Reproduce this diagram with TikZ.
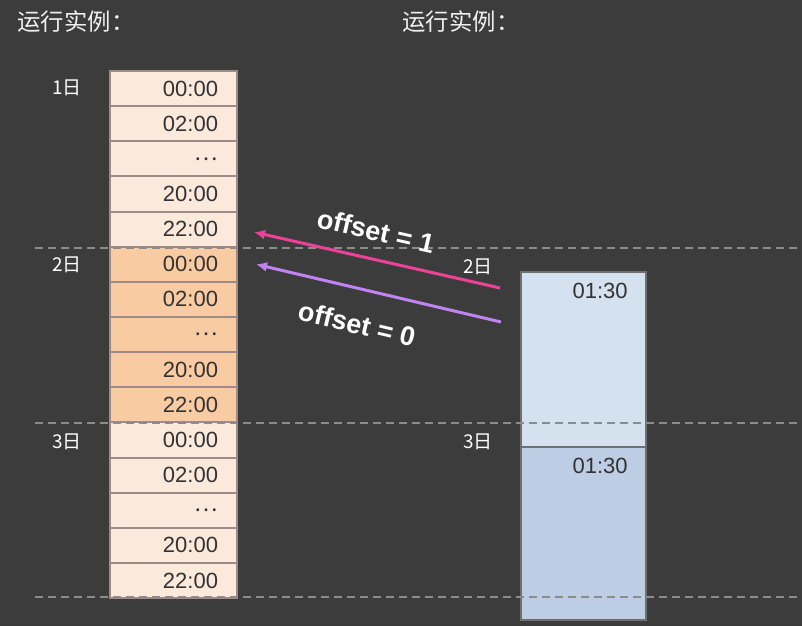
\documentclass[tikz,border=0pt]{standalone}
\usepackage{fontspec}
\setmainfont{Liberation Sans}
\newfontfamily\cjk{Noto Sans CJK SC}
\usetikzlibrary{positioning,arrows.meta}
\definecolor{bgdark}{HTML}{3C3C3C}
\definecolor{cellpale}{HTML}{FBE9DC}
\definecolor{cellhot}{HTML}{F8CBA2}
\definecolor{cellline}{HTML}{A08A88}
\definecolor{celltext}{HTML}{333333}
\definecolor{blocktop}{HTML}{D4E2EF}
\definecolor{blockbot}{HTML}{BDCDE3}
\definecolor{blockline}{HTML}{707070}
\definecolor{dayline}{HTML}{8C8C8C}
\definecolor{pinkline}{HTML}{EC4399}
\definecolor{violetline}{HTML}{C183F2}
\tikzset{
  cell/.style={draw=cellline, line width=1pt, fill=cellpale, minimum width=63.5pt,
               minimum height=17.57pt, text width=44.5pt, inner xsep=9.5pt, inner ysep=0pt,
               outer sep=0pt, align=right, text=celltext, font=\fontsize{11}{13}\selectfont},
  hot/.style={fill=cellhot},
  block/.style={draw=blockline, line width=1pt, minimum width=62.5pt, outer sep=0pt, inner sep=0pt},
  blocktext/.style={inner sep=0pt, text=celltext, font=\fontsize{11}{13}\selectfont},
  title/.style={text=white!94!black, inner sep=0pt, font=\cjk\fontsize{11.7}{13}\selectfont},
  daylabel/.style={text=white, inner sep=0pt, font=\cjk\fontsize{9.5}{11}\selectfont},
  dayrule/.style={draw=dayline, line width=0.8pt, dash pattern=on 4pt off 2.5pt},
  offarrow/.style={-{Latex[length=5.5pt,width=5pt]}, line width=1.5pt},
  offlabel/.style={text=white, inner sep=0pt, font=\bfseries\fontsize{13.5}{15}\selectfont},
}
\begin{document}
\begin{tikzpicture}[x=0.5pt, y=-0.5pt]
  \useasboundingbox (0,0) rectangle (802,626);
  \fill[bgdark] (0,0) rectangle (802,626);

  \node[title, anchor=west] (t1) at (17,22) {运行实例：};
  \node[title, anchor=west] (t2) at (402,22) {运行实例：};

  % left column, two hours per cell
  \node[cell, anchor=north west] (c1) at (110,71) {00:00};
  \node[cell, below=0pt of c1] (c2) {02:00};
  \node[cell, below=0pt of c2] (c3) {\cjk …};
  \node[cell, below=0pt of c3] (c4) {20:00};
  \node[cell, below=0pt of c4] (c5) {22:00};
  \node[cell, hot, below=0pt of c5] (c6) {00:00};
  \node[cell, hot, below=0pt of c6] (c7) {02:00};
  \node[cell, hot, below=0pt of c7] (c8) {\cjk …};
  \node[cell, hot, below=0pt of c8] (c9) {20:00};
  \node[cell, hot, below=0pt of c9] (c10) {22:00};
  \node[cell, below=0pt of c10] (c11) {00:00};
  \node[cell, below=0pt of c11] (c12) {02:00};
  \node[cell, below=0pt of c12] (c13) {\cjk …};
  \node[cell, below=0pt of c13] (c14) {20:00};
  \node[cell, below=0pt of c14] (c15) {22:00};

  \node[daylabel, anchor=west] (d1) at (52,88) {1日};
  \node[daylabel, anchor=west] (d2) at (52,265) {2日};
  \node[daylabel, anchor=west] (d3) at (52,442) {3日};

  % right column, one run per day
  \node[block, fill=blocktop, anchor=north west, minimum height=87.5pt] (blk1) at (521,272) {};
  \node[block, fill=blockbot, below=0pt of blk1, minimum height=86.5pt] (blk2) {};
  \node[blocktext, anchor=north east] (r1) at ([xshift=-9pt,yshift=-5.5pt]blk1.north east) {01:30};
  \node[blocktext, anchor=north east] (r2) at ([xshift=-9pt,yshift=-5.5pt]blk2.north east) {01:30};

  \node[daylabel, anchor=west] (e2) at (463,267) {2日};
  \node[daylabel, anchor=west] (e3) at (463,442) {3日};

  \draw[dayrule] (35,248) -- (802,248);
  \draw[dayrule] (35,423) -- (802,423);
  \draw[dayrule] (35,597) -- (802,597);

  \coordinate (p1) at (500,288);
  \coordinate (p0) at (501,322);
  \draw[offarrow, pinkline] (p1) -- ([xshift=8.5pt,yshift=-1.5pt]c5.east);
  \draw[offarrow, violetline] (p0) -- ([xshift=9.5pt]c6.east);
  \node[offlabel, rotate=-12.8] (o1) at (376,231) {offset = 1};
  \node[offlabel, rotate=-13.3] (o0) at (357,324) {offset = 0};
\end{tikzpicture}
\end{document}
